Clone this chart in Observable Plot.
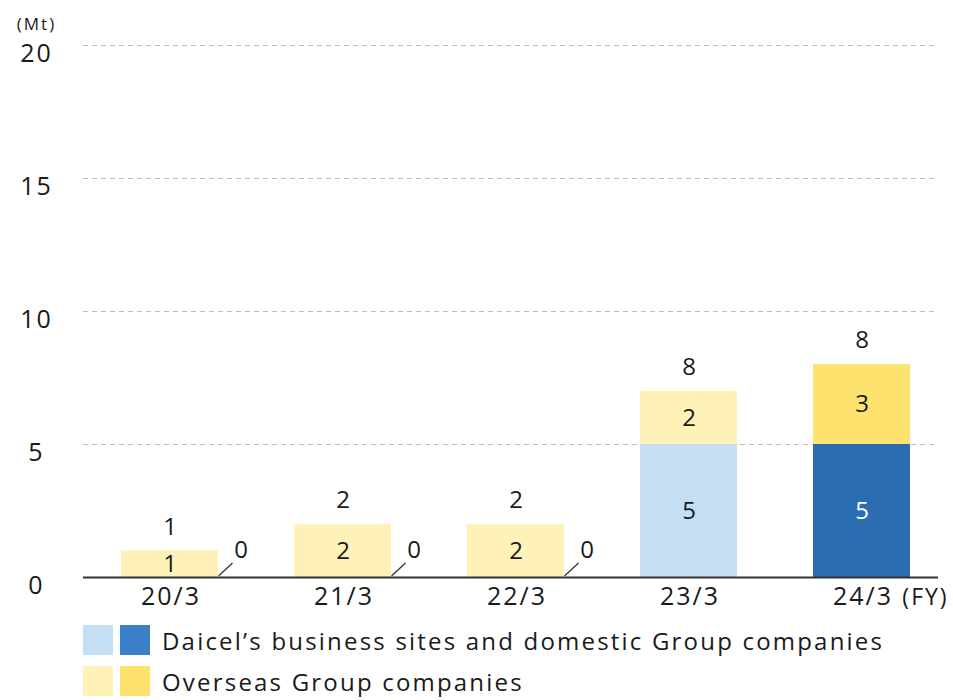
<!DOCTYPE html>
<html>
<head>
<meta charset="utf-8">
<script src="https://cdn.jsdelivr.net/npm/d3@7"></script>
<script src="https://cdn.jsdelivr.net/npm/@observablehq/plot@0.6"></script>
<style>
  html, body { margin: 0; padding: 0; background: #fff; }
  #wrap { position: relative; width: 953px; height: 700px; font-family: "Open Sans", sans-serif; color: #1a1a1a; }
  #chart svg { display: block; }
  .leg { position: absolute; left: 83px; height: 30px; display: flex; align-items: center; font-size: 24px; letter-spacing: 2.2px; white-space: nowrap; font-weight: 500; }
  .sw { width: 30px; height: 30px; margin-right: 7px; }
  .leg span.t { margin-left: 5px; }
</style>
</head>
<body>
<div id="wrap">
  <div id="chart"></div>
  <div class="leg" style="top:625px"><div class="sw" style="background:#c4dff3"></div><div class="sw" style="background:#3a80c6"></div><span class="t">Daicel’s business sites and domestic Group companies</span></div>
  <div class="leg" style="top:666px"><div class="sw" style="background:#fef2b8"></div><div class="sw" style="background:#fee26e"></div><span class="t">Overseas Group companies</span></div>
</div>
<script>
const years = ["20/3", "21/3", "22/3", "23/3", "24/3"];
const domestic = [0, 0, 0, 5, 5];
const overseas = [1, 2, 2, 2, 3];
const totalLabels = ["1", "2", "2", "8", "8"];
const yTicks = [0, 5, 10, 15, 20];

const latest = years[years.length - 1];
const colorOf = (series, year) => {
  const hi = year === latest;
  if (series === "domestic") return hi ? "#2a6db0" : "#c4dff3";
  return hi ? "#fee26e" : "#fef2b8";
};

const rows = [];
years.forEach((y, i) => {
  rows.push({year: y, series: "domestic", value: domestic[i]});
  rows.push({year: y, series: "overseas", value: overseas[i]});
});
const totals = years.map((y, i) => ({year: y, total: domestic[i] + overseas[i], label: totalLabels[i]}));
const zeroRows = rows.filter(d => d.series === "domestic" && d.value === 0);

const W = 953, H = 615;
const font = "Open Sans, sans-serif";

const slash = {draw(ctx) { ctx.moveTo(-7, 6.5); ctx.lineTo(7, -6.5); }};

const chart = Plot.plot({
  width: W,
  height: H,
  marginLeft: 83,
  marginRight: 15,
  marginTop: 45,
  marginBottom: 38,
  style: {fontFamily: font, background: "#fff", color: "#1a1a1a", letterSpacing: "2px"},
  x: {type: "band", domain: years, range: [83, 948], paddingInner: 0.44, paddingOuter: 0.22, axis: null},
  y: {domain: [0, 20], axis: null},
  color: {type: "identity"},
  marks: [
    Plot.ruleY([5, 10, 15, 20], {stroke: "#bdbdbd", strokeWidth: 1, strokeDasharray: "5,4"}),
    Plot.barY(rows, Plot.stackY({x: "year", y: "value", fill: d => colorOf(d.series, d.year)})),
    Plot.text(rows.filter(d => d.value > 0), Plot.stackY({
      x: "year", y: "value", text: d => String(d.value),
      fill: d => (d.series === "domestic" && d.year === latest) ? "#ffffff" : "#1a1a1a",
      fontSize: 24, fontWeight: 500, dx: 1
    })),
    Plot.text(totals, {x: "year", y: "total", text: "label", dy: -24, dx: 1, fontSize: 24, fontWeight: 500, fill: "#1a1a1a"}),
    Plot.dot(zeroRows, {x: "year", y: 0, dx: 55.5, dy: -8, symbol: slash, r: 5, fill: "none", stroke: "#333", strokeWidth: 1.3}),
    Plot.text(zeroRows, {x: "year", y: 0, text: d => String(d.value), dx: 72, dy: -27, fontSize: 24, fontWeight: 500, fill: "#1a1a1a"}),
    Plot.ruleY([0], {stroke: "#333", strokeWidth: 2}),
    Plot.text(yTicks, {y: d => d, text: d => String(d), frameAnchor: "left", dx: -47, dy: 8, textAnchor: "middle", fontSize: 25, fontWeight: 500, fill: "#1a1a1a"}),
    Plot.text(["(Mt)"], {frameAnchor: "top-left", dx: -47, dy: -28, textAnchor: "middle", fontSize: 17, fontWeight: 500, fill: "#1a1a1a"}),
    Plot.text(years, {x: d => d, frameAnchor: "bottom", dy: 27, dx: 1, fontSize: 25, fontWeight: 500, fill: "#1a1a1a"}),
    Plot.text(["(FY)"], {frameAnchor: "bottom-right", dx: -13, dy: 27, textAnchor: "middle", fontSize: 23, fontWeight: 500, fill: "#1a1a1a"})
  ]
});
document.getElementById("chart").appendChild(chart);
</script>
</body>
</html>
